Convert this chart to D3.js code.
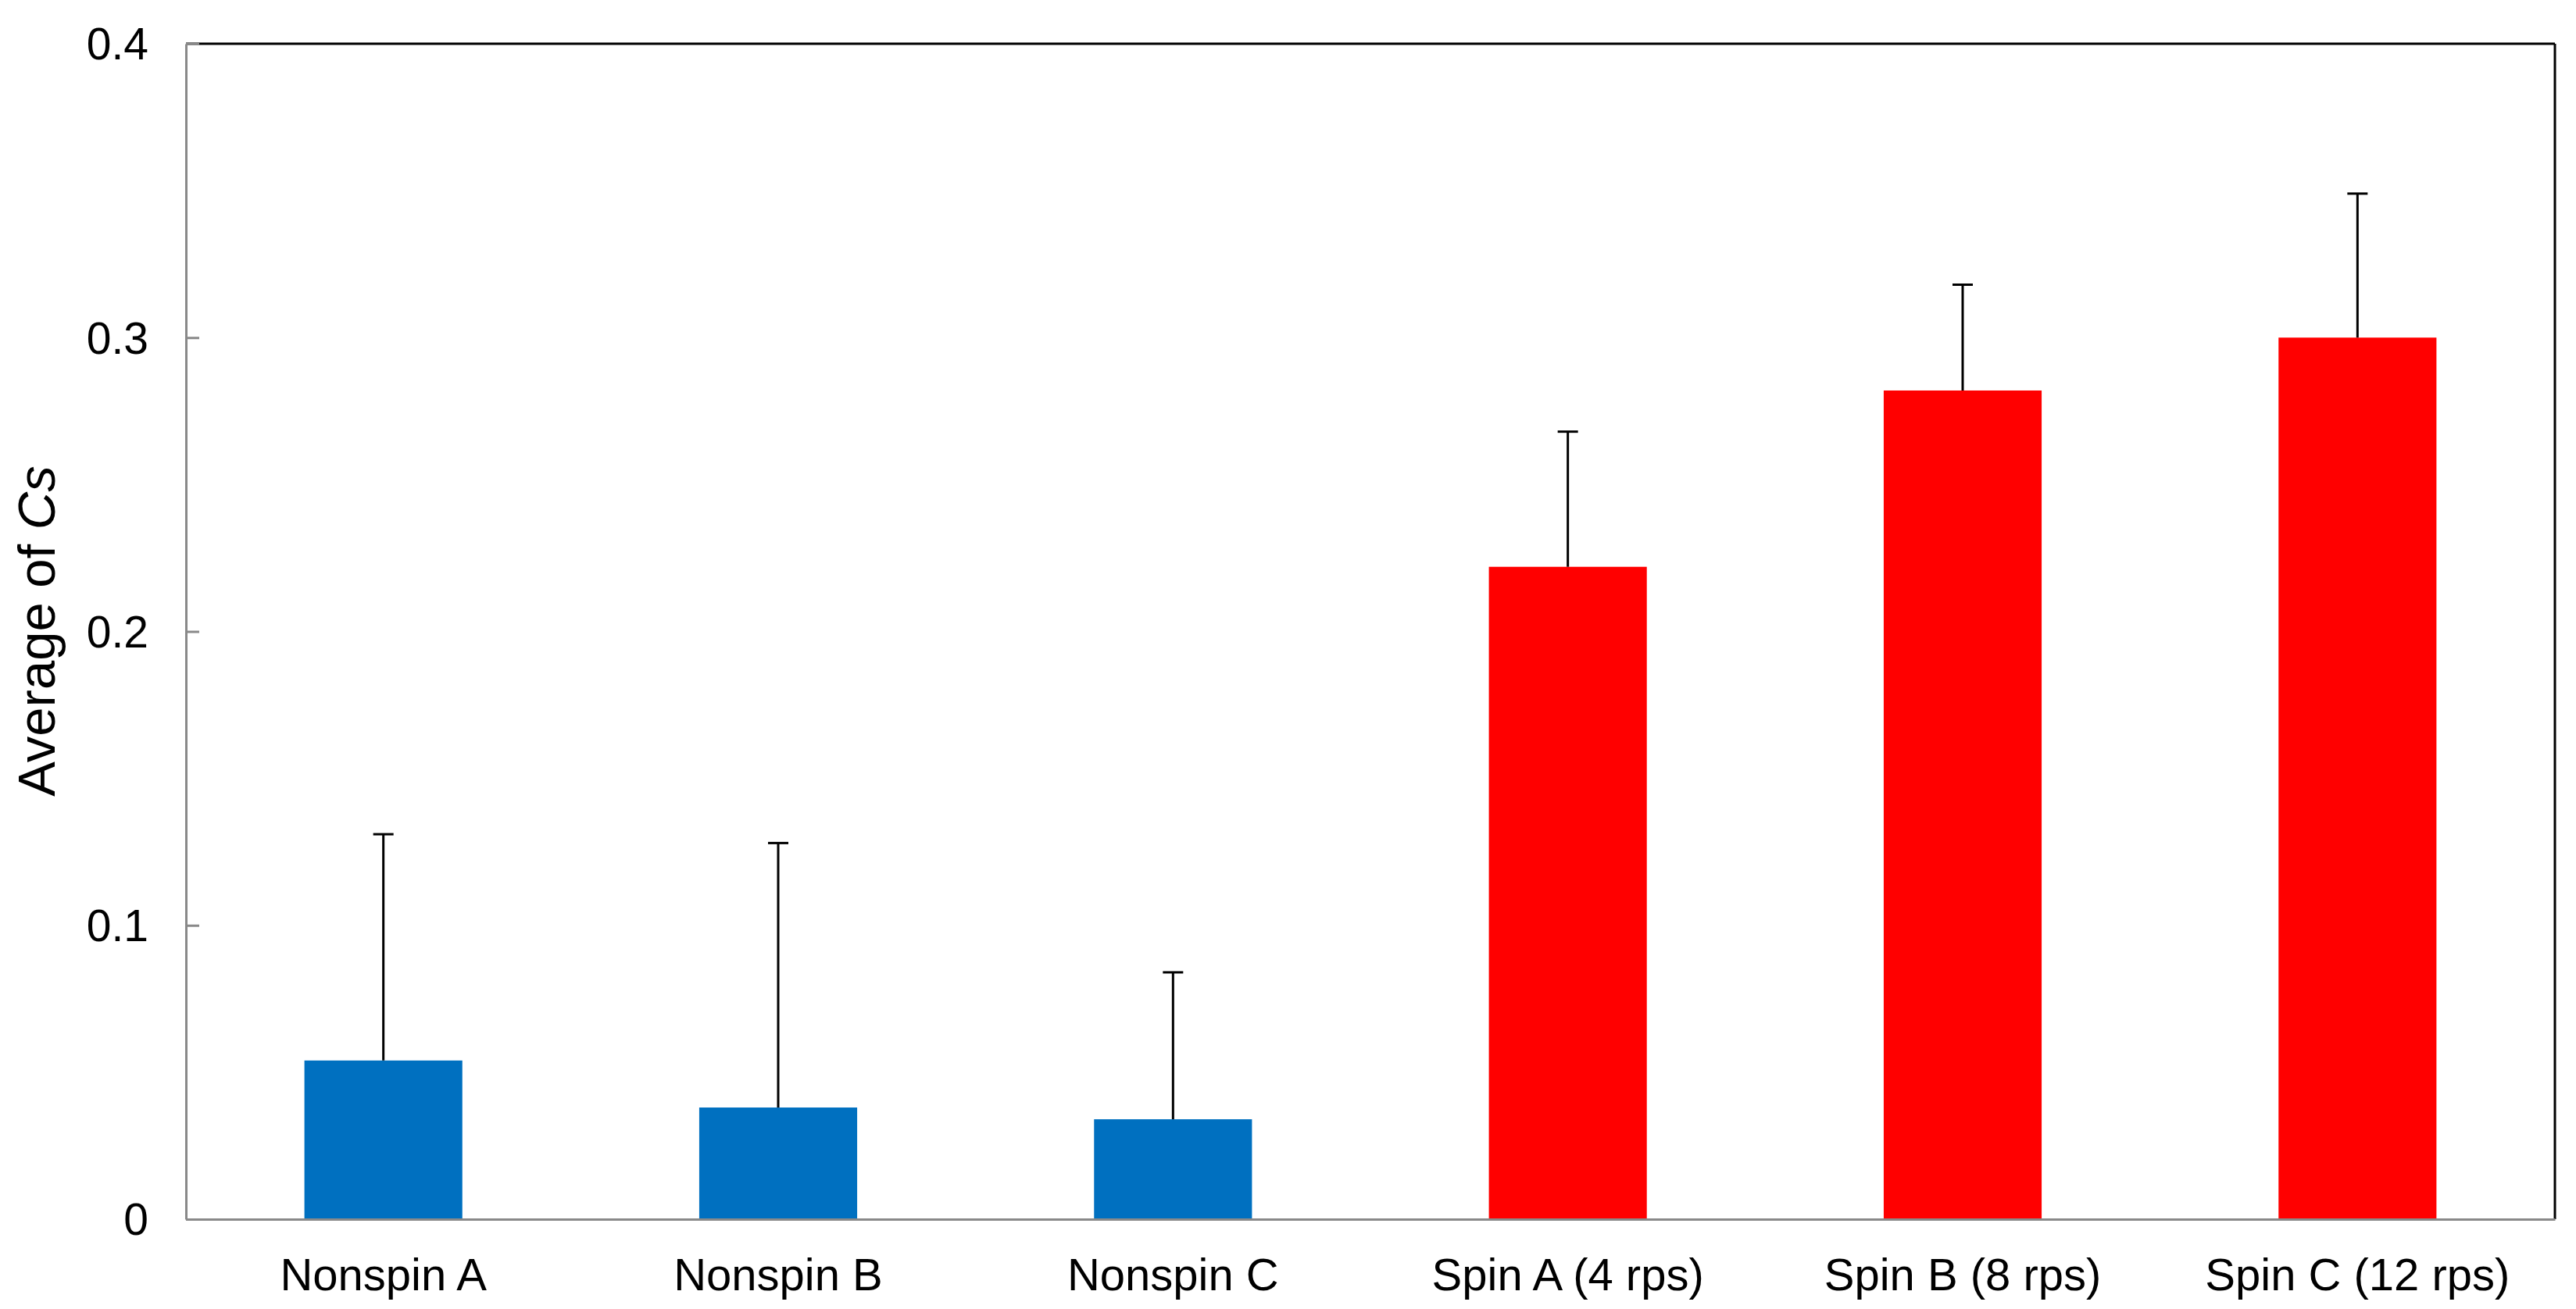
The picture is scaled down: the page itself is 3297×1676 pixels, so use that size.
<!DOCTYPE html>
<html>
<head>
<meta charset="utf-8">
<script src="https://cdn.jsdelivr.net/npm/d3@7/dist/d3.min.js"></script>
<style>
  html, body { margin: 0; padding: 0; background: #fff; }
  svg text { font-family: "Liberation Sans", Arial, sans-serif; fill: #000; }
</style>
</head>
<body>
<div id="chart"></div>
<script>
var categories = ["Nonspin A", "Nonspin B", "Nonspin C", "Spin A (4 rps)", "Spin B (8 rps)", "Spin C (12 rps)"];
var means = [0.054, 0.038, 0.034, 0.222, 0.282, 0.300];
var errors = [0.077, 0.090, 0.050, 0.046, 0.036, 0.049];
var groups = ["nonspin", "nonspin", "nonspin", "spin", "spin", "spin"];
var yTicks = [0, 0.1, 0.2, 0.3, 0.4];

(function() {

  var W = 3297, H = 1676;
  var margin = { top: 56, right: 27, bottom: 115, left: 238 };
  var colors = { nonspin: "#0070C0", spin: "#FF0000" };

  var svg = d3.select("#chart").append("svg")
    .attr("width", W).attr("height", H);

  var x = d3.scaleBand()
    .domain(categories)
    .range([margin.left, W - margin.right])
    .paddingInner(0.6)
    .paddingOuter(0.3);

  var y = d3.scaleLinear()
    .domain([0, 0.4])
    .range([H - margin.bottom, margin.top]);

  var data = categories.map(function(c, i) {
    return { name: c, value: means[i], err: errors[i], group: groups[i] };
  });

  // frame: top and right in black
  svg.append("line")
    .attr("x1", margin.left).attr("x2", W - margin.right)
    .attr("y1", y(0.4)).attr("y2", y(0.4))
    .attr("stroke", "#000").attr("stroke-width", 3);
  svg.append("line")
    .attr("x1", W - margin.right).attr("x2", W - margin.right)
    .attr("y1", y(0.4)).attr("y2", y(0))
    .attr("stroke", "#000").attr("stroke-width", 3);

  // bars
  svg.append("g").selectAll("rect")
    .data(data).enter()
    .append("rect")
      .attr("x", function(d) { return x(d.name); })
      .attr("y", function(d) { return y(d.value); })
      .attr("width", x.bandwidth())
      .attr("height", function(d) { return y(0) - y(d.value); })
      .attr("fill", function(d) { return colors[d.group]; });

  // error bars (upper only)
  var eb = svg.append("g").attr("class", "errors");
  eb.selectAll(".stem")
    .data(data).enter()
    .append("line")
      .attr("class", "stem")
      .attr("x1", function(d) { return x(d.name) + x.bandwidth() / 2; })
      .attr("x2", function(d) { return x(d.name) + x.bandwidth() / 2; })
      .attr("y1", function(d) { return y(d.value); })
      .attr("y2", function(d) { return y(d.value + d.err); })
      .attr("stroke", "#000").attr("stroke-width", 3);
  eb.selectAll(".cap")
    .data(data).enter()
    .append("line")
      .attr("class", "cap")
      .attr("x1", function(d) { return x(d.name) + x.bandwidth() / 2 - 13; })
      .attr("x2", function(d) { return x(d.name) + x.bandwidth() / 2 + 13; })
      .attr("y1", function(d) { return y(d.value + d.err); })
      .attr("y2", function(d) { return y(d.value + d.err); })
      .attr("stroke", "#000").attr("stroke-width", 3);

  // y axis, ticks pointing inward
  var yAxis = svg.append("g")
    .attr("transform", "translate(" + margin.left + ",0)")
    .call(d3.axisLeft(y).tickValues(yTicks).tickSize(-17).tickSizeOuter(0)
      .tickPadding(48).tickFormat(function(d) { return d === 0 ? "0" : d3.format(".1f")(d); }));
  yAxis.select(".domain").attr("stroke", "#898989").attr("stroke-width", 3);
  yAxis.selectAll(".tick line").attr("stroke", "#898989").attr("stroke-width", 3);
  yAxis.selectAll(".tick text")
    .attr("x", -48)
    .style("font-size", "57px")
    .attr("dy", "0.35em");

  // x axis, no ticks
  var xAxis = svg.append("g")
    .attr("transform", "translate(0," + y(0) + ")")
    .call(d3.axisBottom(x).tickSize(0).tickSizeOuter(0));
  xAxis.select(".domain").attr("stroke", "#898989").attr("stroke-width", 3);
  xAxis.selectAll(".tick text")
    .attr("y", 0).attr("dy", 0)
    .attr("transform", "translate(0,91)")
    .style("font-size", "58px");

  // y label with italic Cs
  var yl = svg.append("text")
    .attr("transform", "translate(70,808) rotate(-90)")
    .attr("text-anchor", "middle")
    .style("font-size", "67px");
  yl.append("tspan").text("Average of ");
  yl.append("tspan").style("font-style", "italic").text("Cs");

})();
</script>
</body>
</html>
